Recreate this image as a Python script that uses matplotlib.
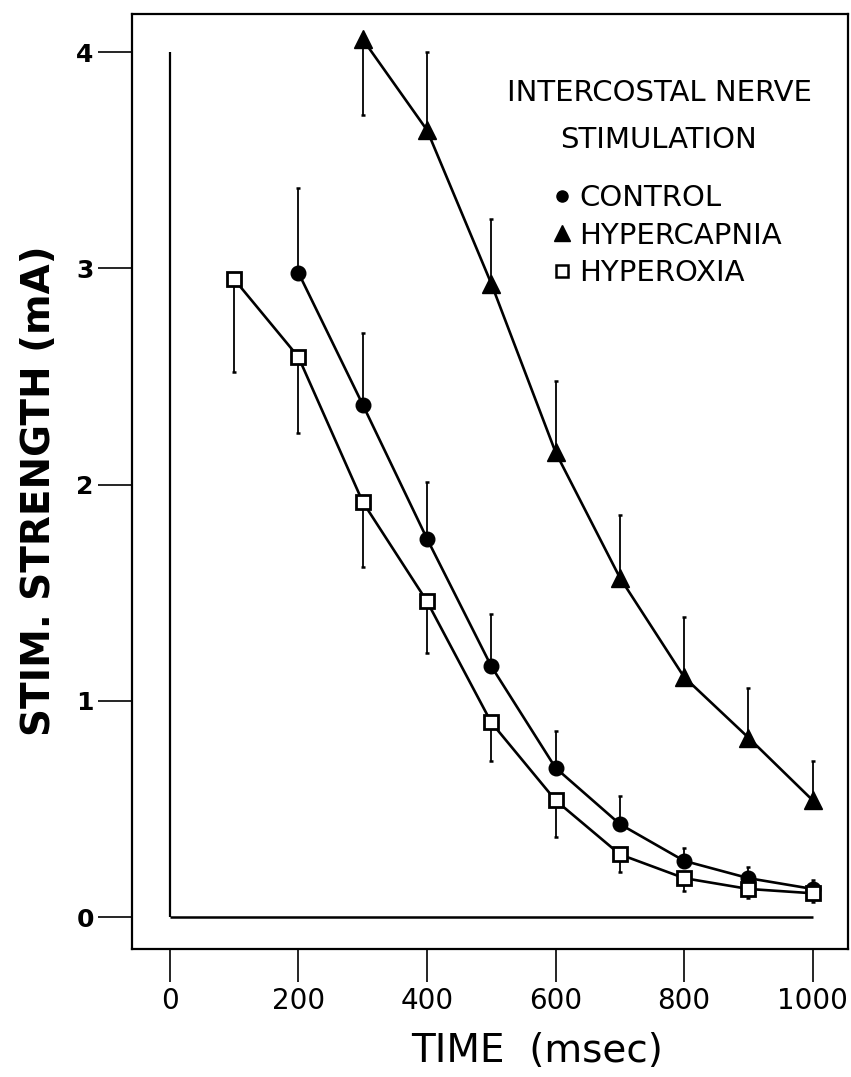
import matplotlib
matplotlib.use("Agg")
import matplotlib.pyplot as plt
from matplotlib.lines import Line2D

# Stimulation strength (mA) needed at each pulse interval (msec)
control_t = [200, 300, 400, 500, 600, 700, 800, 900, 1000]
control_mean = [2.98, 2.37, 1.75, 1.16, 0.69, 0.43, 0.26, 0.18, 0.13]
control_err_up = [0.39, 0.33, 0.26, 0.24, 0.17, 0.13, 0.06, 0.05, 0.04]

hypercapnia_t = [300, 400, 500, 600, 700, 800, 900, 1000]
hypercapnia_mean = [4.06, 3.64, 2.93, 2.15, 1.57, 1.11, 0.83, 0.54]
hypercapnia_err_up = [0.0, 0.36, 0.30, 0.33, 0.29, 0.28, 0.23, 0.18]
hypercapnia_err_down = [0.35, 0.0, 0.0, 0.0, 0.0, 0.0, 0.0, 0.0]

hyperoxia_t = [100, 200, 300, 400, 500, 600, 700, 800, 900, 1000]
hyperoxia_mean = [2.95, 2.59, 1.92, 1.46, 0.90, 0.54, 0.29, 0.18, 0.13, 0.11]
hyperoxia_err_down = [0.43, 0.35, 0.30, 0.24, 0.18, 0.17, 0.08, 0.06, 0.04, 0.04]

x_ticks = [0, 200, 400, 600, 800, 1000]
y_ticks = [0, 1, 2, 3, 4]

title_lines = ["INTERCOSTAL NERVE", "STIMULATION"]
series_labels = ["CONTROL", "HYPERCAPNIA", "HYPEROXIA"]

plt.rcParams["font.family"] = ["DejaVu Sans"]

fig = plt.figure(figsize=(8.51, 10.77), dpi=100)
ax = fig.add_axes([0.1551, 0.1188, 0.8414, 0.8682])
ax.set_xlim(-59, 1055)
ax.set_ylim(-0.148, 4.177)

for sp in ax.spines.values():
    sp.set_linewidth(1.6)
    sp.set_color("black")

# inner reference axes drawn inside the frame
ax.vlines(x_ticks[0], y_ticks[0], y_ticks[-1], color="black", lw=1.6, zorder=1)
ax.hlines(y_ticks[0], x_ticks[0], x_ticks[-1], color="black", lw=1.8, zorder=1)

err_kw = dict(fmt="none", ecolor="black", elinewidth=1.3, capsize=1.6,
              capthick=1.8, zorder=2)

ax.errorbar(control_t, control_mean,
            yerr=[[0] * len(control_t), control_err_up], **err_kw)
ax.errorbar(hypercapnia_t, hypercapnia_mean,
            yerr=[hypercapnia_err_down, hypercapnia_err_up], **err_kw)
ax.errorbar(hyperoxia_t, hyperoxia_mean,
            yerr=[hyperoxia_err_down, [0] * len(hyperoxia_t)], **err_kw)

ax.plot(control_t, control_mean, color="black", lw=1.9, marker="o",
        ms=10.5, mfc="black", mec="black", zorder=3)
ax.plot(hypercapnia_t, hypercapnia_mean, color="black", lw=1.9, marker="^",
        ms=13.5, mfc="black", mec="black", zorder=3)
ax.plot(hyperoxia_t, hyperoxia_mean, color="black", lw=1.9, marker="s",
        ms=10, mfc="white", mec="black", mew=2.0, zorder=3)

ax.set_xticks(x_ticks)
ax.set_yticks(y_ticks)
ax.set_xticklabels([str(v) for v in x_ticks], fontsize=20)
ax.set_yticklabels([str(v) for v in y_ticks], fontsize=18, fontweight="bold")
ax.tick_params(axis="x", direction="out", length=24, width=1.2, pad=3)
ax.tick_params(axis="y", direction="out", length=24.5, width=1.2, pad=3)

ax.set_xlabel("TIME  (msec)", fontsize=28)
ax.xaxis.set_label_coords(0.566, -0.089)
ax.set_ylabel("STIM. STRENGTH (mA)", fontsize=28, fontweight="bold")
ax.yaxis.set_label_coords(-0.103, 0.49)

# legend block in the upper right
ax.text(0.737, 0.9155, title_lines[0], transform=ax.transAxes,
        ha="center", va="center", fontsize=21)
ax.text(0.735, 0.865, title_lines[1], transform=ax.transAxes,
        ha="center", va="center", fontsize=21)

handles = [
    Line2D([], [], ls="none", marker="o", ms=8, mfc="black", mec="black"),
    Line2D([], [], ls="none", marker="^", ms=12, mfc="black", mec="black"),
    Line2D([], [], ls="none", marker="s", ms=8, mfc="white", mec="black",
           mew=1.8),
]
ax.legend(handles, series_labels, loc="upper left",
          bbox_to_anchor=(0.588, 0.818), frameon=False, fontsize=21,
          handlelength=0.6, handletextpad=0.3, labelspacing=0.32,
          borderpad=0, borderaxespad=0)

fig.savefig("out.png", dpi=100)
